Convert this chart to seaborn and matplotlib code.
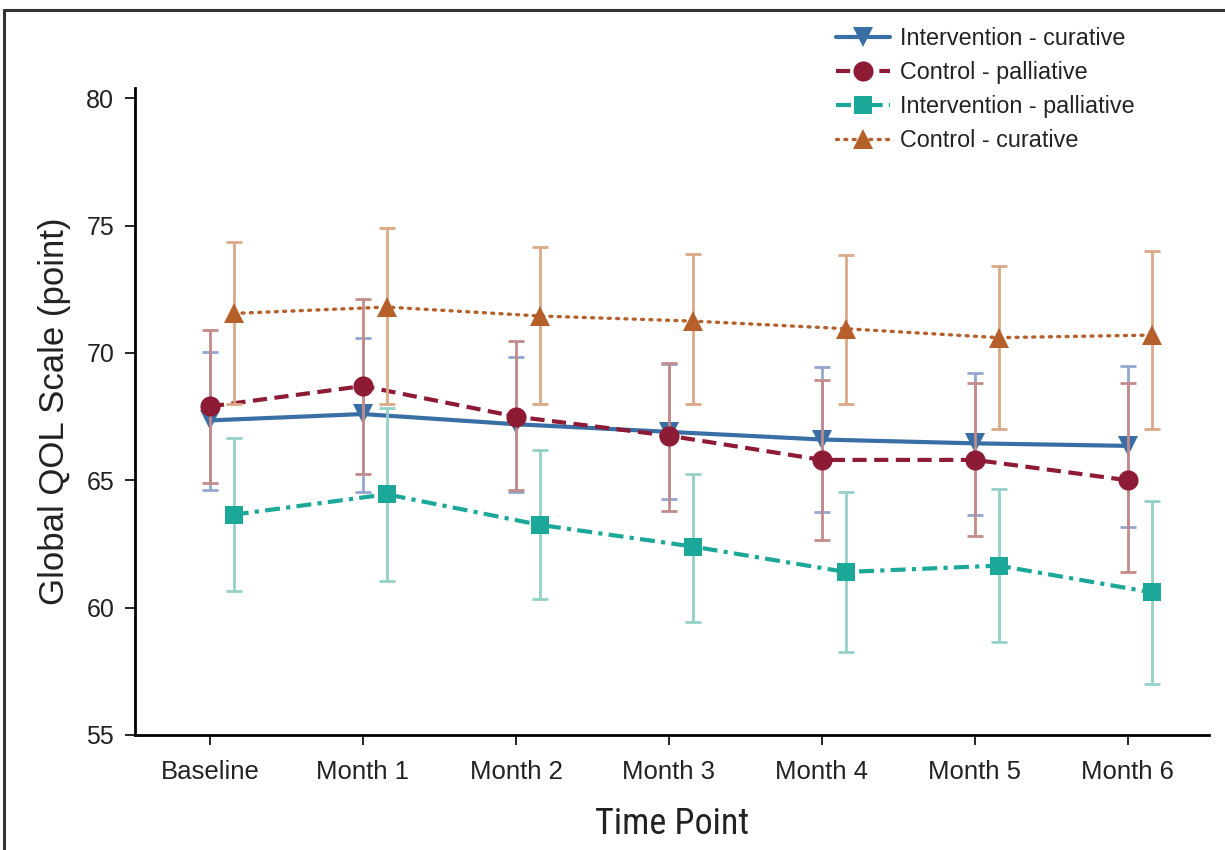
import matplotlib
matplotlib.use("Agg")
import numpy as np
import pandas as pd
import seaborn as sns
import matplotlib.pyplot as plt
from matplotlib import font_manager as fm
from matplotlib.lines import Line2D

# ---------------- data ----------------
time_points = ["Baseline", "Month 1", "Month 2", "Month 3", "Month 4", "Month 5", "Month 6"]

series_names = ["Intervention - curative", "Control - palliative",
                "Intervention - palliative", "Control - curative"]

ic_mean = [67.35, 67.6, 67.2, 66.9, 66.6, 66.45, 66.35]
ic_low = [64.6, 64.55, 64.55, 64.25, 63.75, 63.65, 63.15]
ic_high = [70.05, 70.6, 69.85, 69.55, 69.45, 69.2, 69.5]

cp_mean = [67.9, 68.7, 67.5, 66.75, 65.8, 65.8, 65.0]
cp_low = [64.9, 65.25, 64.6, 63.8, 62.65, 62.8, 61.4]
cp_high = [70.9, 72.1, 70.45, 69.6, 68.95, 68.8, 68.8]

ip_mean = [63.65, 64.45, 63.25, 62.4, 61.4, 61.65, 60.6]
ip_low = [60.65, 61.05, 60.35, 59.45, 58.25, 58.65, 57.0]
ip_high = [66.65, 67.85, 66.2, 65.25, 64.55, 64.65, 64.2]

cc_mean = [71.55, 71.8, 71.45, 71.25, 70.95, 70.6, 70.7]
cc_low = [68.0, 68.0, 68.0, 68.0, 68.0, 67.0, 67.0]
cc_high = [74.35, 74.9, 74.15, 73.9, 73.85, 73.4, 74.0]

means = [ic_mean, cp_mean, ip_mean, cc_mean]
lows = [ic_low, cp_low, ip_low, cc_low]
highs = [ic_high, cp_high, ip_high, cc_high]

# ---------------- style ----------------
offsets = [0.0, 0.0, 0.155, 0.155]
line_colors = ["#3a6fa6", "#8e1b36", "#1ca898", "#b5602b"]
err_colors = ["#93a6cf", "#c48b8b", "#93d0c8", "#dca886"]
markers = ["v", "o", "s", "^"]
marker_sizes = [15, 14.5, 13.5, 15]
linestyles = ["-", (0, (3.4, 1.8)), (0, (3.6, 1.5, 1.0, 1.5)), (0, (0.6, 1.9))]
linewidths = [3.0, 3.0, 3.0, 2.4]
capstyles = ["butt", "butt", "butt", "round"]

names = {f.name for f in fm.fontManager.ttflist}
base_font = "Liberation Sans" if "Liberation Sans" in names else "DejaVu Sans"
narrow = None
for cand in ["Liberation Sans Narrow", "Roboto Condensed", "Open Sans Condensed"]:
    if cand in names:
        narrow = dict(family=cand)
        break
if narrow is None:
    if any(f.name == "DejaVu Sans" and str(f.stretch) in ("condensed", "semi-condensed")
           for f in fm.fontManager.ttflist):
        narrow = dict(family="DejaVu Sans", stretch="condensed")
    else:
        narrow = dict(family=base_font)

sns.set_theme(style="white")
plt.rcParams["font.family"] = [base_font, "DejaVu Sans"]

# long table
rows = []
for name, m, lo, hi, off in zip(series_names, means, lows, highs, offsets):
    for i, tp in enumerate(time_points):
        rows.append(dict(series=name, time=tp, idx=i, pos=i + off,
                         mean=m[i], low=lo[i], high=hi[i]))
df = pd.DataFrame(rows)

fig = plt.figure(figsize=(12.25, 8.5), dpi=100)
ax = fig.add_axes([135 / 1225, 1 - 735 / 850, (1209 - 135) / 1225, (735 - 88) / 850])

handles = []
for k, name in enumerate(series_names):
    sub = df[df.series == name]
    ax.errorbar(sub["pos"], sub["mean"],
                yerr=[sub["mean"] - sub["low"], sub["high"] - sub["mean"]],
                fmt="none", ecolor=err_colors[k], elinewidth=2.0,
                capsize=6, capthick=2.0, zorder=2 + 2 * k)
    sns.lineplot(data=sub, x="pos", y="mean", ax=ax, color=line_colors[k],
                 marker=markers[k], markersize=marker_sizes[k],
                 markeredgecolor=line_colors[k], markeredgewidth=0,
                 linestyle=linestyles[k], linewidth=linewidths[k],
                 dash_capstyle=capstyles[k], label=name, legend=False,
                 zorder=3 + 2 * k)
    handles.append(ax.lines[-1])

ax.set_xlim(-0.49, 6.53)
ax.set_ylim(55, 80.4)
ax.set_yticks([55, 60, 65, 70, 75, 80])
ax.set_xticks(range(len(time_points)))
ax.set_xticklabels(time_points)

for s in ["top", "right"]:
    ax.spines[s].set_visible(False)
for s in ["left", "bottom"]:
    ax.spines[s].set_color("black")
    ax.spines[s].set_linewidth(2.0)

ax.tick_params(axis="y", which="major", direction="out", length=7, width=1.2,
               color="black", labelsize=18, pad=8, left=True, labelcolor="#222222")
ax.tick_params(axis="x", which="major", direction="out", length=7, width=1.2,
               color="black", labelsize=18.5, pad=11, bottom=True, labelcolor="#222222")

ax.set_xlabel("Time Point", fontsize=26, labelpad=16, color="#222222", **narrow)
ax.set_ylabel("Global QOL Scale (point)", fontsize=25, labelpad=11,
              color="#222222", family=base_font)

leg = ax.legend(handles=handles, labels=series_names, loc="upper left",
                bbox_to_anchor=(836 / 1225, 1 - 27 / 850),
                bbox_transform=fig.transFigure, frameon=False, fontsize=16.8,
                borderpad=0, borderaxespad=0, handlelength=2.3,
                handletextpad=0.45, labelspacing=0.47)
for t in leg.get_texts():
    t.set_color("#222222")

# outer frame (left and top edges visible)
fig.add_artist(Line2D([4 / 1225, 4 / 1225], [0, 1 - 10 / 850],
                      transform=fig.transFigure, color="#333333", lw=2.2))
fig.add_artist(Line2D([4 / 1225, 1], [1 - 10 / 850, 1 - 10 / 850],
                      transform=fig.transFigure, color="#333333", lw=2.2))

fig.savefig("out.png", dpi=100)
